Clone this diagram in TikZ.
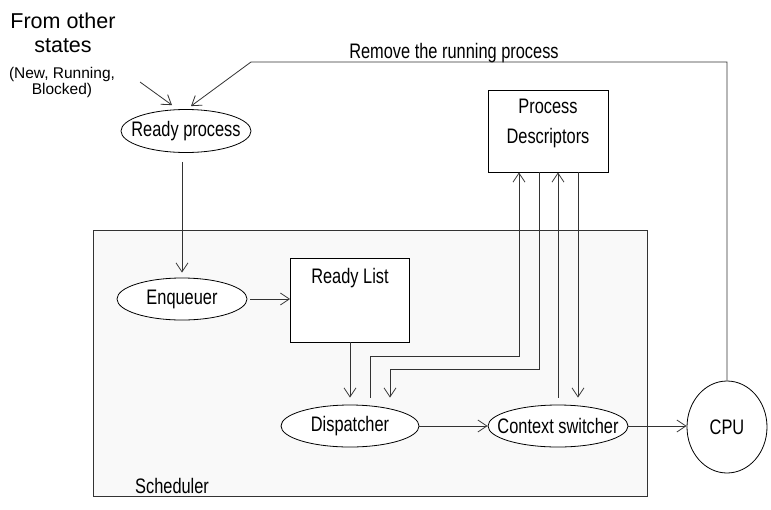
\documentclass[tikz,border=0pt]{standalone}
\usepackage{fontspec}
\setmainfont{Liberation Sans}
\newfontfamily\nar{Liberation Sans}[FakeStretch=0.78]
\usetikzlibrary{arrows.meta,calc,shapes.geometric}
\definecolor{lnc}{HTML}{333333}
\begin{document}
\begin{tikzpicture}[x=1pt,y=-1pt,
  lbl/.style={font=\nar\fontsize{21}{24}\selectfont, text=black},
  ell/.style={ellipse, draw=black, line width=0.8pt, fill=white, inner sep=0pt, lbl,
    execute at begin node={\hbox to 0pt\bgroup\hss},
    execute at end node={\hss\egroup}},
  box/.style={rectangle, draw=black, line width=0.8pt, fill=white, inner sep=0pt},
  arr/.style={draw=lnc, line width=0.8pt, -{Straight Barb[length=9pt,width=12pt,line width=0.8pt]}},
  big/.style={font=\fontsize{21.5}{24}\selectfont, anchor=base, inner sep=0pt},
  small/.style={font=\fontsize{15.5}{18}\selectfont, anchor=base, inner sep=0pt}]
\useasboundingbox[fill=white] (0,0) rectangle (771,509);

% scheduler frame
\node[rectangle, draw=black!80, line width=0.8pt, fill=black!2.5, minimum width=554pt, minimum height=266pt, inner sep=0pt] (sch) at (370,363) {};
\node[lbl, anchor=base west, inner sep=0pt] (schl) at (135,493) {Scheduler};

% text at top left
\node[big] (fos1) at (63,28) {From other};
\node[big] (fos2) at (63,52) {states};
\node[small] (fos3) at (62,78) {(New, Running,};
\node[small] (fos4) at (62,94) {Blocked)};

% nodes
\node[ell, minimum width=130pt, minimum height=43pt] (rp) at (186,131) {Ready process};
\node[ell, minimum width=130pt, minimum height=42pt] (enq) at (182,299) {Enqueuer};
\node[box, minimum width=119pt, minimum height=84pt] (rl) at (350,300) {};
\node[lbl, anchor=base, inner sep=0pt] (rlt) at (350,283) {Ready List};
\node[box, minimum width=120pt, minimum height=82pt] (pd) at (548,131) {};
\node[lbl, anchor=base, inner sep=0pt] (pdt1) at (548,113) {Process};
\node[lbl, anchor=base, inner sep=0pt] (pdt2) at (548,143) {Descriptors};
\node[ell, minimum width=138pt, minimum height=42pt] (dis) at (350,426) {Dispatcher};
\node[ell, minimum width=140pt, minimum height=42pt] (cs) at (558,426) {Context switcher};
\node[ell, minimum width=80pt, minimum height=92pt] (cpu) at (727,427) {CPU};

% label of feedback line
\node[lbl, anchor=base, inner sep=0pt] (rmv) at (454,58) {Remove the running process};

% connectors
\coordinate (fosa) at (140,82);
\coordinate (rc) at (251,62);
\draw[arr] (fosa) -- ($(rp.north)+(-14,-4)$);
\draw[arr] (cpu.north) |- (rc) -- ($(rp.north)+(5,-3)$);
\draw[arr] ($(rp.south -| enq.north)+(0,9)$) -- ($(enq.north)+(0,-5)$);
\draw[arr] ($(enq.east)+(3,0)$) -- (enq.east -| rl.west);
\draw[arr] (rl.south) -- ($(dis.north)+(0,-7)$);
\draw[arr] ($(dis.north)+(20,-7)$) |- ($(pd.south)+(-29,184)$) -- ($(pd.south)+(-29,0)$);
\draw[arr] ($(pd.south)+(-9,0)$) |- ($(dis.north)+(40,-35)$) -- ($(dis.north)+(40,-7)$);
\draw[arr] ($(cs.north)+(0,-7)$) -- (cs.north |- pd.south);
\draw[arr] ($(pd.south)+(30,0)$) -- ($(cs.north)+(20,-7)$);
\draw[arr] (dis.east) -- (cs.west);
\draw[arr] (cs.east) -- (cs.east -| cpu.west);
\end{tikzpicture}
\end{document}
